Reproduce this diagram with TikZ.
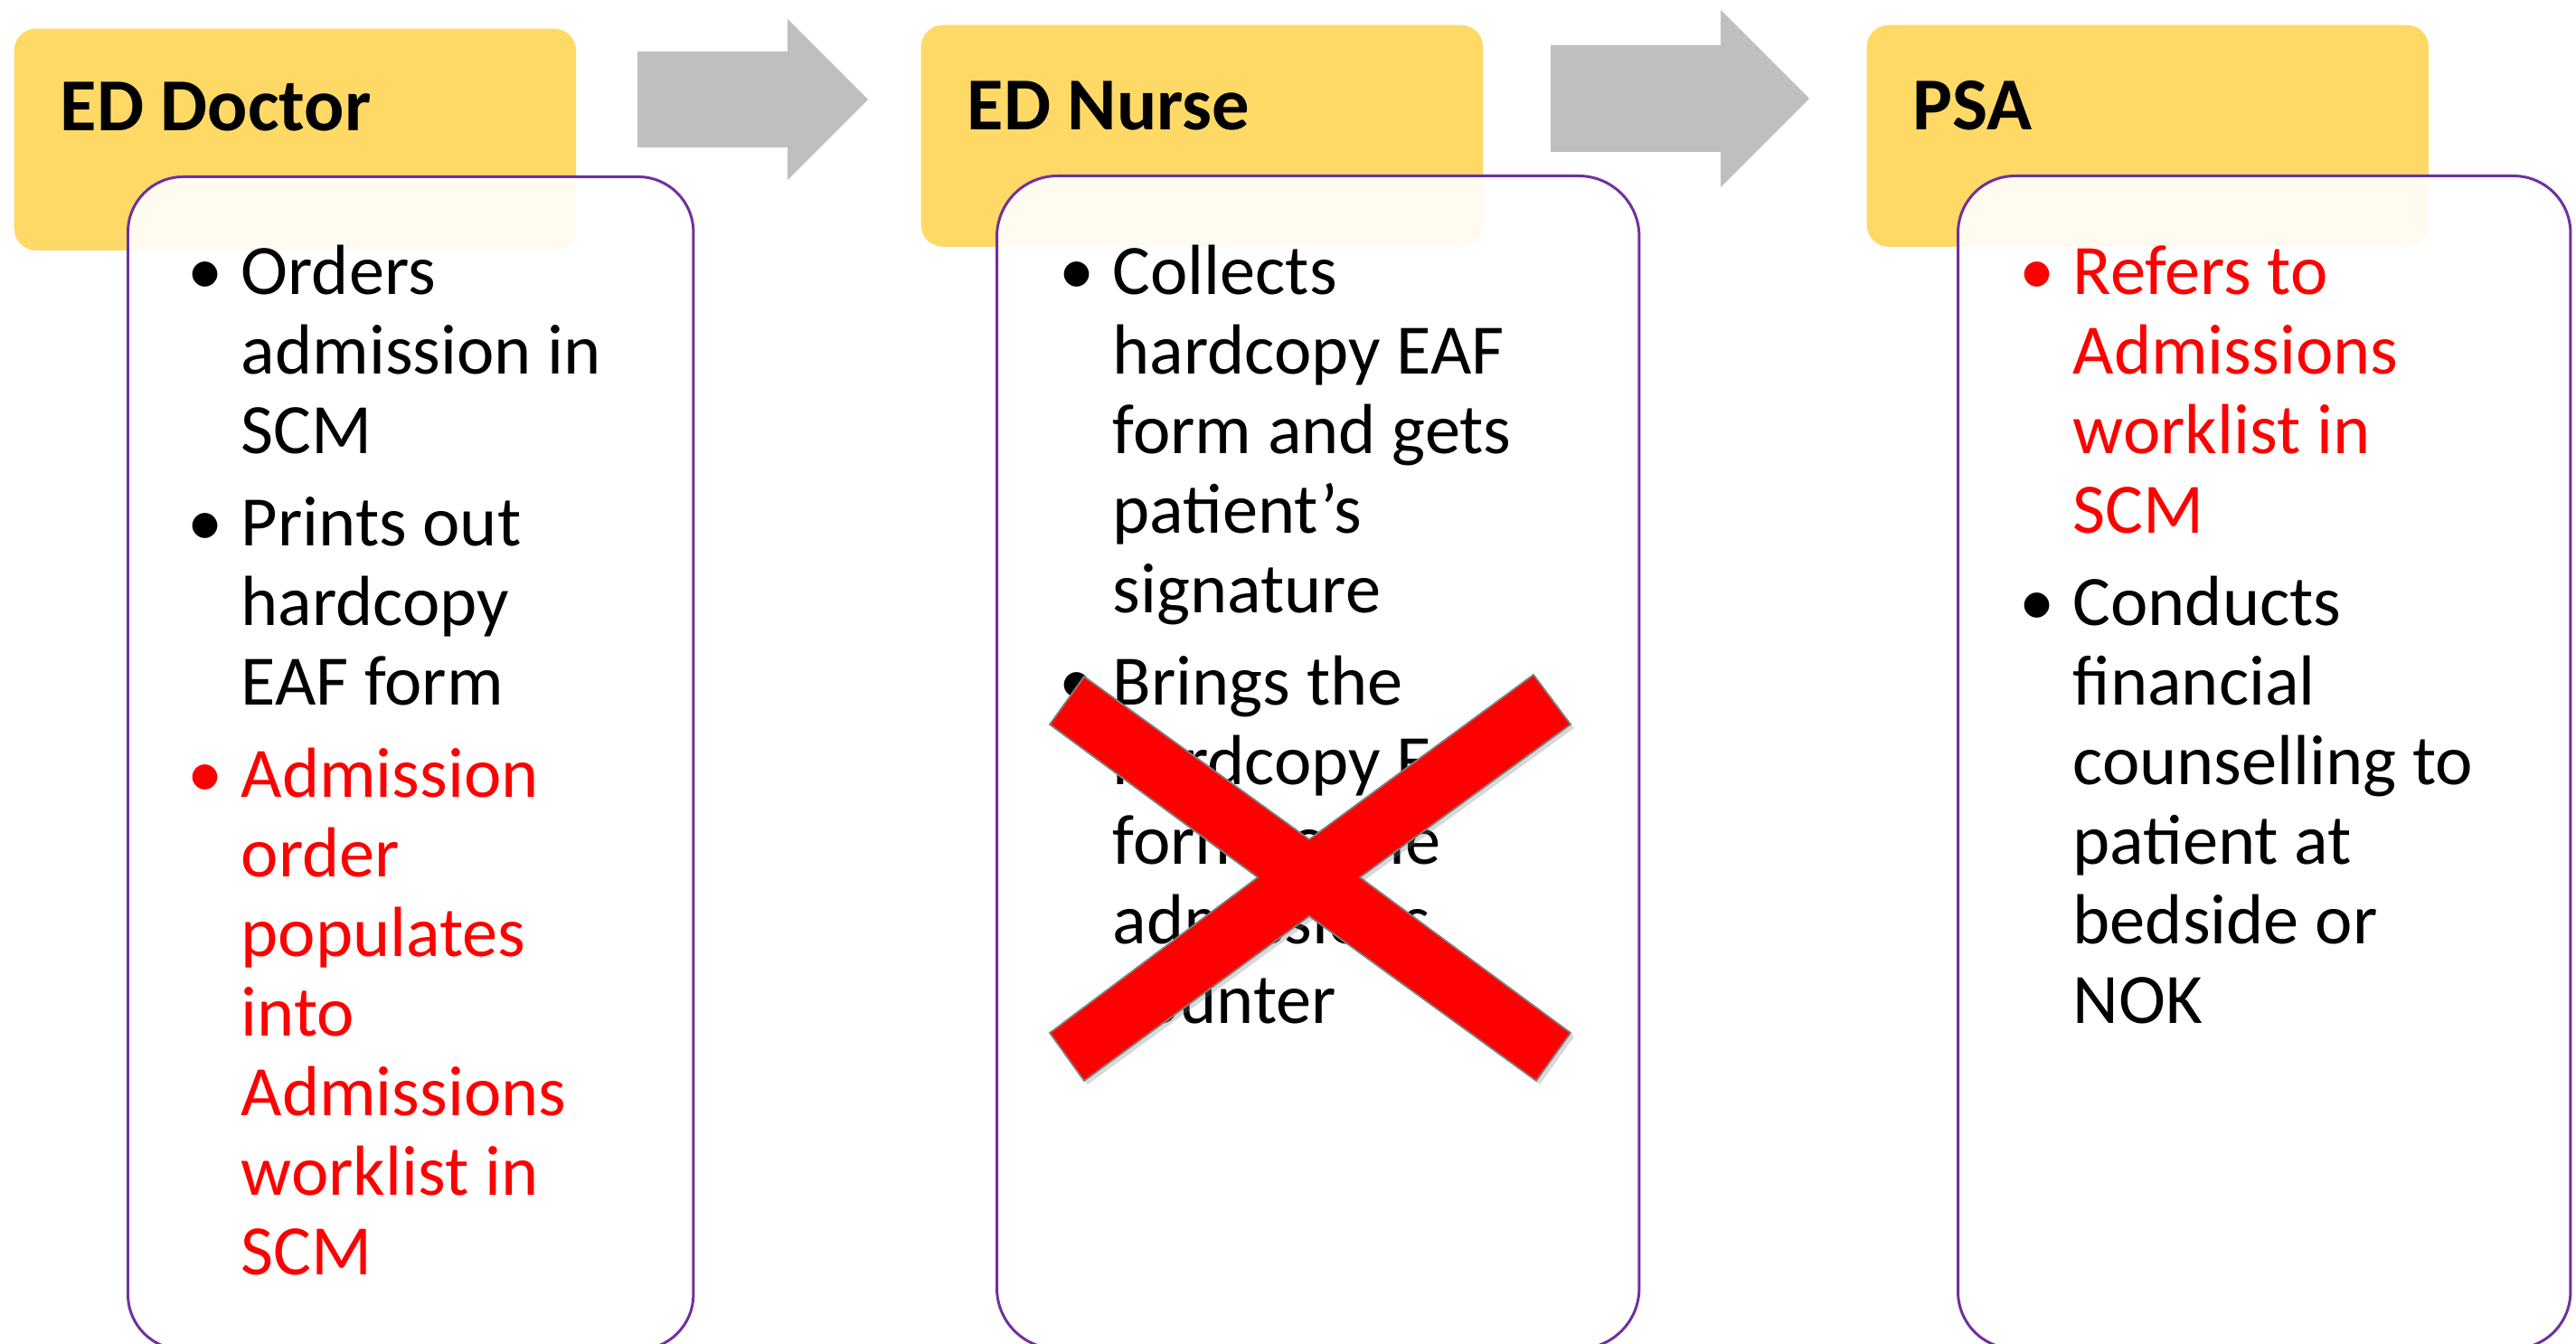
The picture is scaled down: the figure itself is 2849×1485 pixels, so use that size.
\documentclass[tikz,border=0pt]{standalone}
\usepackage{fontspec}
\setmainfont{Carlito}
\usetikzlibrary{shadows}
\definecolor{headfill}{HTML}{FFD966}
\definecolor{cardline}{HTML}{7030A0}
\definecolor{flowgray}{HTML}{BFBFBF}
\definecolor{redtext}{HTML}{FF0000}
\tikzset{head/.style = {fill=headfill, rounded corners=0.24cm, minimum width=6.21cm, minimum height=2.45cm, anchor=north west, inner sep=0}}
\tikzset{card/.style = {draw=cardline, line width=0.85pt, fill=white, fill opacity=0.9, anchor=north west, inner sep=0, minimum height=12.96cm}}
\tikzset{title/.style = {anchor=base west, inner sep=0, font=\bfseries\fontsize{23.5}{28}\selectfont}}
\tikzset{item/.style = {anchor=base west, inner sep=0, align=left, font=\fontsize{22.3}{25}\selectfont}}
\tikzset{flow/.style = {fill=flowgray}}
\tikzset{cross/.style = {fill=redtext, draw=gray, line width=0.5pt, drop shadow={shadow xshift=0.04cm, shadow yshift=-0.04cm, opacity=0.3}}}
\newcommand{\itm}{\llap{\makebox[0.59cm][l]{\textbullet}}}

\begin{document}
\begin{tikzpicture}[x=0.01cm, y=-0.01cm]
    \useasboundingbox (0,0) rectangle (2849,1485);
    \clip (0,0) rectangle (2849,1485);
    % headers
    \node[head] (hdoc) at (15,31) {};
    \node[head] (hnur) at (1018,27) {};
    \node[head] (hpsa) at (2064,27) {};
    \node[title] (tdoc) at (66,145) {ED Doctor};
    \node[title] (tnur) at (1069,144) {ED Nurse};
    \node[title] (tpsa) at (2115,144) {PSA};
    % arrows between steps
    \fill[flow] (705,57) -- (871,57) -- (871,21) -- (960,110) -- (871,199) -- (871,163) -- (705,163) -- cycle;
    \fill[flow] (1715,50) -- (1903,50) -- (1903,11) -- (2001,109) -- (1903,207) -- (1903,168) -- (1715,168) -- cycle;
    % cards
    \node[card, minimum width=6.25cm, rounded corners=0.61cm] (cdoc) at (140,194) {};
    \node[card, minimum width=7.10cm, rounded corners=0.67cm] (cnur) at (1101,193) {};
    \node[card, minimum width=6.77cm, rounded corners=0.63cm] (cpsa) at (2164,193) {};
    % ED Doctor (node base = last line)
    \node[item] (d1) at (266,501) {\itm Orders\\admission in\\SCM};
    \node[item] (d2) at (266,779) {\itm Prints out\\hardcopy\\EAF form};
    \node[item, text=redtext] (d3) at (266,1409) {\itm Admission\\order\\populates\\into\\Admissions\\worklist in\\SCM};
    % ED Nurse
    \node[item] (n1) at (1230,677) {\itm Collects\\hardcopy EAF\\form and gets\\patient’s\\signature};
    \node[item] (n2) at (1230,1131) {\itm Brings the\\hardcopy EAF\\form to the\\admissions\\counter};
    % PSA
    \node[item, text=redtext] (p1) at (2292,589) {\itm Refers to\\Admissions\\worklist in\\SCM};
    \node[item] (p2) at (2292,1131) {\itm Conducts\\financial\\counselling to\\patient at\\bedside or\\NOK};
    % cross over the nurse step
    \draw[cross] (1199,748) -- (1448,928) -- (1696,746) -- (1737,801) -- (1504,970) -- (1737,1142)
        -- (1699,1195) -- (1448,1013) -- (1199,1195) -- (1161,1142) -- (1391,970) -- (1161,801) -- cycle;
\end{tikzpicture}
\end{document}
